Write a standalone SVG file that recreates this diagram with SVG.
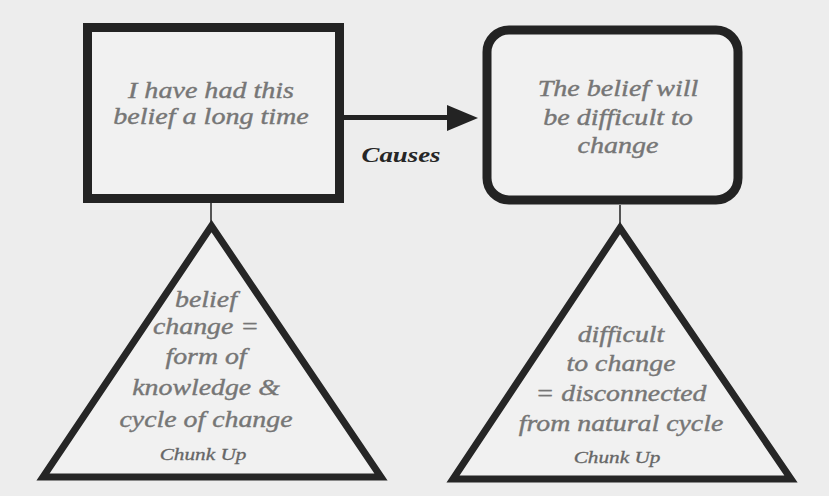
<svg xmlns="http://www.w3.org/2000/svg" width="829" height="496" viewBox="0 0 829 496">
<style>
.bg{fill:#ededed}
.box{fill:#f1f1f1;stroke:#232323;stroke-width:9}
.tri{fill:#f1f1f1;stroke:#262626;stroke-width:7;stroke-linejoin:miter}
.t{font-family:"Liberation Serif","Times New Roman",serif;font-style:italic;font-size:24px;fill:#767676;stroke:#767676;stroke-width:0.4;text-anchor:middle}
.s{font-family:"Liberation Serif","Times New Roman",serif;font-style:italic;font-size:17px;fill:#666;stroke:#666;stroke-width:0.3;text-anchor:middle}
.c{font-family:"Liberation Serif","Times New Roman",serif;font-style:italic;font-weight:bold;font-size:22px;fill:#262626;text-anchor:middle}
.ln{stroke:#555;stroke-width:2;fill:none}
.ar{stroke:#232323;stroke-width:5;fill:none}
</style>
<rect class="bg" x="0" y="0" width="829" height="496"/>
<g id="connectors">
<line class="ar" x1="344" y1="117.5" x2="450" y2="117.5"/>
<polygon points="447,105 478,118 447,131" fill="#232323"/>
<text class="c" transform="matrix(1.22 0 0 1 401 0)" x="0" y="162">Causes</text>
<line class="ln" x1="211" y1="203" x2="211" y2="224"/>
<line class="ln" x1="620" y1="205" x2="620" y2="226"/>
</g>
<g id="node-long-time">
<rect class="box" x="87.5" y="27.5" width="252" height="171"/>
<text class="t" transform="matrix(1.17 0 0 1 211 0)"><tspan x="0" y="98">I have had this</tspan><tspan x="0" y="124">belief a long time</tspan></text>
</g>
<g id="node-difficult">
<rect class="box" x="487" y="30" width="251" height="170" rx="22" ry="22"/>
<text class="t" transform="matrix(1.17 0 0 1 618 0)"><tspan x="0" y="96">The belief will</tspan><tspan x="0" y="125">be difficult to</tspan><tspan x="0" y="153">change</tspan></text>
</g>
<g id="node-chunk-left">
<polygon class="tri" points="211.5,226 43,477 381,477"/>
<text class="t" transform="matrix(1.16 0 0 1 206 0)"><tspan x="0" y="307">belief</tspan><tspan x="0" y="334">change =</tspan><tspan x="0" y="364">form of</tspan><tspan x="0" y="395">knowledge &amp;</tspan><tspan x="0" y="427">cycle of change</tspan></text>
<text class="s" transform="matrix(1.25 0 0 1 203 0)" x="0" y="460">Chunk Up</text>
</g>
<g id="node-chunk-right">
<polygon class="tri" points="620,228 453,479 791,479"/>
<text class="t" transform="matrix(1.16 0 0 1 621 0)"><tspan x="0" y="342">difficult</tspan><tspan x="0" y="371">to change</tspan><tspan x="0" y="401">= disconnected</tspan><tspan x="0" y="431">from natural cycle</tspan></text>
<text class="s" transform="matrix(1.25 0 0 1 617 0)" x="0" y="463">Chunk Up</text>
</g>
</svg>
